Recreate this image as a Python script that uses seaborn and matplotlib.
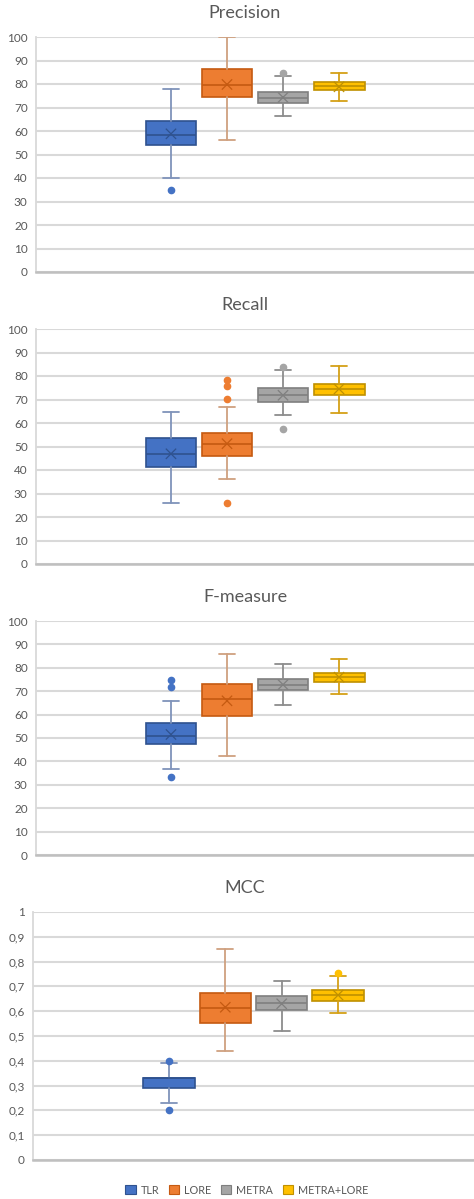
"""
Box plots of Precision / Recall / F-measure / MCC for four approaches.
"""

import numpy as np
import matplotlib.pyplot as plt
import seaborn as sns
from matplotlib.patches import Patch
from matplotlib.ticker import FuncFormatter, MultipleLocator

sns.set_theme(style="white")
plt.rcParams['font.family'] = ['Lato', 'DejaVu Sans']

# approaches, in drawing order
methods = ['TLR', 'LORE', 'METRA', 'METRA+LORE']
fill_colors = ['#4472C4', '#ED7D31', '#A5A5A5', '#FFC000']
edge_colors = ['#2F528F', '#C55A11', '#7F7F7F', '#BF9000']
whisker_colors = ['#7F93BA', '#CFA07F', '#8C8C8C', '#D4A017']

# summary statistics (one value per method)
prec_lo = [39.9, 56.1, 66.3, 72.9]
prec_q1 = [54.0, 74.3, 71.9, 77.4]
prec_med = [58.5, 79.4, 74.1, 79.0]
prec_q3 = [64.1, 86.5, 76.7, 80.7]
prec_hi = [78.0, 99.9, 83.5, 84.7]
prec_mean = [58.8, 79.8, 74.3, 78.8]
prec_fliers = [[35.1], [], [84.8], []]

rec_lo = [25.8, 36.3, 63.3, 64.4]
rec_q1 = [41.3, 46.1, 69.1, 71.8]
rec_med = [46.7, 51.2, 71.8, 74.5]
rec_q3 = [53.8, 55.6, 74.8, 76.7]
rec_hi = [64.8, 66.7, 82.7, 84.1]
rec_mean = [46.9, 51.2, 71.8, 74.5]
rec_fliers = [[], [78.4, 75.6, 70.2, 26.1], [83.7, 57.6], []]

f_lo = [36.9, 42.1, 64.2, 69.0]
f_q1 = [47.4, 59.6, 70.6, 73.9]
f_med = [50.8, 66.6, 72.5, 75.9]
f_q3 = [56.6, 72.9, 75.3, 77.9]
f_hi = [66.0, 85.9, 81.7, 83.6]
f_mean = [51.5, 65.9, 72.8, 76.0]
f_fliers = [[74.8, 71.8, 33.2], [], [], []]

mcc_lo = [0.231, 0.440, 0.521, 0.592]
mcc_q1 = [0.291, 0.552, 0.604, 0.642]
mcc_med = [0.331, 0.612, 0.633, 0.664]
mcc_q3 = [0.331, 0.672, 0.662, 0.684]
mcc_hi = [0.390, 0.852, 0.723, 0.743]
mcc_mean = [np.nan, 0.616, 0.630, 0.665]
mcc_fliers = [[0.401, 0.202], [], [], [0.754]]

panels = [
    ('Precision', prec_lo, prec_q1, prec_med, prec_q3, prec_hi, prec_mean, prec_fliers, 100),
    ('Recall', rec_lo, rec_q1, rec_med, rec_q3, rec_hi, rec_mean, rec_fliers, 100),
    ('F-measure', f_lo, f_q1, f_med, f_q3, f_hi, f_mean, f_fliers, 100),
    ('MCC', mcc_lo, mcc_q1, mcc_med, mcc_q3, mcc_hi, mcc_mean, mcc_fliers, 1),
]

W, H = 474, 1199
fig = plt.figure(figsize=(W / 100, H / 100), dpi=100)

# pixel boxes of each plot area: (left, top, bottom), title centre y
areas = [(36, 37, 272, 13), (36, 329, 564, 305), (36, 621, 855, 597), (33, 912, 1160, 888)]

def comma_fmt(v, _):
    return f"{v:g}".replace('.', ',')

for (title, lo, q1, med, q3, hi, mean, fliers, top), (left, ytop, ybot, ty) in zip(panels, areas):
    ax = fig.add_axes([left / W, 1 - ybot / H, (W - left) / W, (ybot - ytop) / H])
    stats = []
    for i in range(len(methods)):
        stats.append(dict(whislo=lo[i], q1=q1[i], med=med[i], q3=q3[i],
                          whishi=hi[i], fliers=fliers[i], label=methods[i]))
    pos = np.arange(len(methods))
    art = ax.bxp(stats, positions=pos, widths=0.91, capwidths=0.28,
                 patch_artist=True, showfliers=True, zorder=3)
    for i in range(len(methods)):
        art['boxes'][i].set(facecolor=fill_colors[i], edgecolor=edge_colors[i], linewidth=1.2)
        art['medians'][i].set(color=edge_colors[i], linewidth=1.2)
        for ln in art['whiskers'][2 * i:2 * i + 2] + art['caps'][2 * i:2 * i + 2]:
            ln.set(color=whisker_colors[i], linewidth=1.3)
        art['fliers'][i].set(marker='o', markersize=4.5, markerfacecolor=fill_colors[i],
                             markeredgecolor=fill_colors[i], linestyle='none')
    sns.scatterplot(x=pos, y=mean, hue=methods, palette=edge_colors, marker='x',
                    s=55, linewidth=0.9, legend=False, ax=ax, zorder=4)

    ax.set_xlim(-2.41, 5.41)
    ax.set_ylim(0, top)
    ax.yaxis.set_major_locator(MultipleLocator(top / 10))
    if top == 1:
        ax.yaxis.set_major_formatter(FuncFormatter(comma_fmt))
    ax.set_xticks([])
    ax.tick_params(axis='y', length=0, pad=6, labelsize=8.5, labelcolor='#595959')
    ax.grid(axis='y', color='#D9D9D9', linewidth=1.5, zorder=0)
    ax.set_axisbelow(True)
    sns.despine(ax=ax, top=True, right=True)
    ax.spines['left'].set(color='#D9D9D9', linewidth=1.3)
    ax.spines['bottom'].set(color='#BFBFBF', linewidth=1.8)
    fig.text(245 / W, 1 - ty / H, title, ha='center', va='center',
             fontsize=13, color='#595959')

handles = [Patch(facecolor=c, edgecolor=e, linewidth=0.8) for c, e in zip(fill_colors, edge_colors)]
fig.legend(handles, methods, loc='center', bbox_to_anchor=(247 / W, 1 - 1190 / H), ncol=4,
           frameon=False, fontsize=7.8, labelcolor='#595959', handlelength=0.95,
           handleheight=0.95, handletextpad=0.45, columnspacing=0.9)

fig.savefig('out.png', dpi=100)
